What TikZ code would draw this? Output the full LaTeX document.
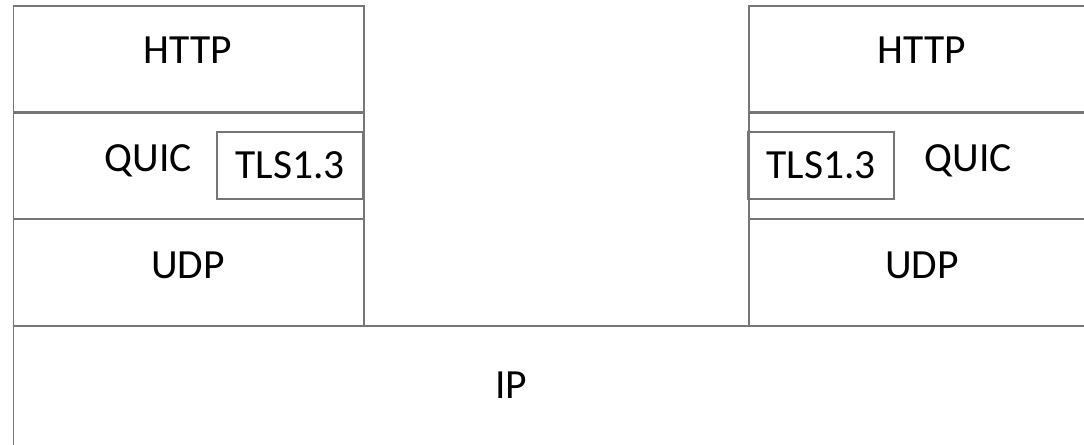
\documentclass[tikz,border=0pt]{standalone}
\usepackage{fontspec}
\setmainfont{Carlito}
\usetikzlibrary{positioning}

\definecolor{linegray}{HTML}{767676}

\begin{document}
\begin{tikzpicture}[
  x=0.025cm,y=-0.025cm,
  layer/.style={draw=linegray, line width=1.4pt, minimum width=8.76cm,
    minimum height=2.66cm, inner sep=0pt, anchor=north west},
  tlsbox/.style={draw=linegray, line width=1.2pt, minimum width=3.65cm,
    minimum height=1.68cm, inner sep=0pt},
  txt/.style={font=\fontsize{29.5}{30}\selectfont, inner sep=0pt, anchor=base}
]
\useasboundingbox (0,0) rectangle (1084,445);
\clip (0,0) rectangle (1084,445);

% left stack
\node[layer] (httpL) at (12.5,5) {};
\node[layer] (quicL) at (12.5,112) {};
\node[layer] (udpL) at (12.5,218.5) {};
\node[tlsbox] (tlsL) at (290,165.5) {};

% right stack
\node[layer] (httpR) at (748,5) {};
\node[layer] (quicR) at (748,112) {};
\node[layer] (udpR) at (748,218.5) {};
\node[tlsbox] (tlsR) at (821,165.5) {};

% shared IP layer
\node[layer, minimum width=27.3cm, minimum height=3.5cm] (ip) at (12.5,325) {};

% texts
\node[txt] (httpLt) at (188,64) {HTTP};
\node[txt] (quicLt) at (148,172) {QUIC};
\node[txt] (tlsLt) at (290,179) {TLS1.3};
\node[txt] (udpLt) at (188,278) {UDP};
\node[txt] (httpRt) at (922,64) {HTTP};
\node[txt] (quicRt) at (968,172) {QUIC};
\node[txt] (tlsRt) at (821,179) {TLS1.3};
\node[txt] (udpRt) at (922,278) {UDP};
\node[txt] (ipt) at (511,398) {IP};
\end{tikzpicture}
\end{document}
